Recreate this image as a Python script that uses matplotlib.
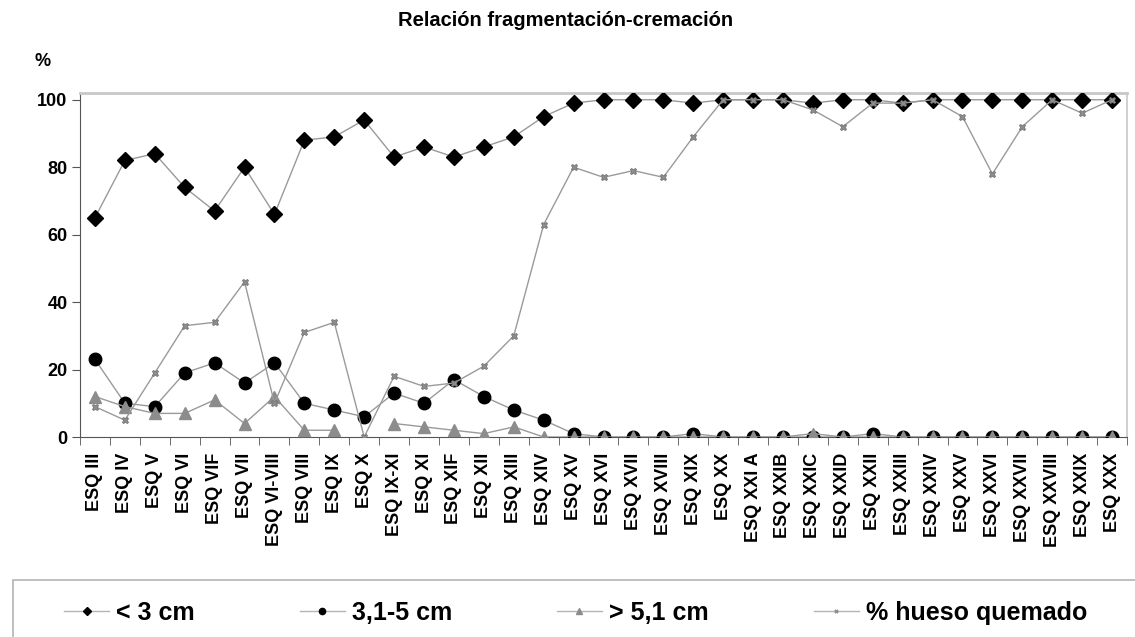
import numpy as np
import matplotlib
matplotlib.use("Agg")
import matplotlib.pyplot as plt
from matplotlib.patches import Rectangle

plt.rcParams['font.family'] = ['Liberation Sans', 'DejaVu Sans']

categories = ["ESQ III", "ESQ IV", "ESQ V", "ESQ VI", "ESQ VIF", "ESQ VII", "ESQ VI-VIII",
              "ESQ VIII", "ESQ IX", "ESQ X", "ESQ IX-XI", "ESQ XI", "ESQ XIF", "ESQ XII",
              "ESQ XIII", "ESQ XIV", "ESQ XV", "ESQ XVI", "ESQ XVII", "ESQ XVIII", "ESQ XIX",
              "ESQ XX", "ESQ XXI A", "ESQ XXIB", "ESQ XXIC", "ESQ XXID", "ESQ XXII",
              "ESQ XXIII", "ESQ XXIV", "ESQ XXV", "ESQ XXVI", "ESQ XXVII", "ESQ XXVIII",
              "ESQ XXIX", "ESQ XXX"]

menos_3 = [65, 82, 84, 74, 67, 80, 66, 88, 89, 94, 83, 86, 83, 86, 89, 95, 99, 100, 100, 100,
           99, 100, 100, 100, 99, 100, 100, 99, 100, 100, 100, 100, 100, 100, 100]
entre_3_5 = [23, 10, 9, 19, 22, 16, 22, 10, 8, 6, 13, 10, 17, 12, 8, 5, 1, 0, 0, 0,
             1, 0, 0, 0, 0, 0, 1, 0, 0, 0, 0, 0, 0, 0, 0]
mas_5 = [12, 9, 7, 7, 11, 4, 12, 2, 2, np.nan, 4, 3, 2, 1, 3, 0, 0, 0, 0, 0,
         0, 0, 0, 0, 1, 0, 0, 0, 0, 0, 0, 0, 0, 0, 0]
quemado = [9, 5, 19, 33, 34, 46, 10, 31, 34, 0, 18, 15, 16, 21, 30, 63, 80, 77, 79, 77,
           89, 100, 100, 100, 97, 92, 99, 99, 100, 95, 78, 92, 100, 96, 100]

W, H = 1135, 637
fig = plt.figure(figsize=(W / 100, H / 100), dpi=100)
ax = fig.add_axes([80 / W, 1 - 437 / H, 1047 / W, 344 / H])

x = np.arange(len(categories))
line_c = '#9a9a9a'
ax.plot(x, menos_3, color=line_c, lw=1, marker='D', ms=8, mfc='black', mec='black',
        label='< 3 cm', zorder=4)
ax.plot(x, entre_3_5, color=line_c, lw=1, marker='o', ms=9, mfc='black', mec='black',
        label='3,1-5 cm', zorder=3)
ax.plot(x, mas_5, color=line_c, lw=1, marker='^', ms=9, mfc='#8c8c8c', mec='#8c8c8c',
        label='> 5,1 cm', zorder=5)
ax.plot(x, quemado, color=line_c, lw=1, marker='X', ms=5, mfc='#8c8c8c', mec='#6f6f6f',
        mew=0.5, label='% hueso quemado', zorder=6)

ax.set_xlim(-0.5, len(categories) - 0.5)
ax.set_ylim(0, 102)
ax.set_yticks([0, 20, 40, 60, 80, 100])
ax.set_xticks(x)
ax.set_xticklabels(categories, rotation=90, fontsize=13, fontweight='bold')
ax.set_xticks(np.arange(-0.5, len(categories) + 0.5, 1), minor=True)
ax.tick_params(axis='x', which='major', length=0, pad=11)
ax.tick_params(axis='x', which='minor', length=6, direction='out', color='#555555')
ax.tick_params(axis='y', length=6, direction='out', labelsize=13, color='#555555', pad=3)
for lab in ax.get_yticklabels():
    lab.set_fontweight('bold')

ax.spines['left'].set_color('#555555')
ax.spines['bottom'].set_color('#555555')
ax.spines['top'].set_color('#c8c8c8')
ax.spines['right'].set_color('#c8c8c8')
ax.spines['top'].set_linewidth(2)
ax.spines['right'].set_linewidth(1.2)

fig.text(566 / W, 1 - 20 / H, 'Relación fragmentación-cremación', ha='center', va='center',
         fontsize=14.5, fontweight='bold')
fig.text(43 / W, 1 - 62 / H, '%', ha='center', va='center', fontsize=13, fontweight='bold')

# legend frame
fig.patches.append(Rectangle((13 / W, -0.05), 1.2, 1 - 580 / H + 0.05,
                             transform=fig.transFigure, fill=False,
                             edgecolor='#b4b4b4', lw=1.2))

leg = fig.legend(loc='center left', bbox_to_anchor=(64 / W, (H - 613) / H),
                 ncol=4, frameon=False, handlelength=1.8, handletextpad=0.28,
                 columnspacing=4.2, markerscale=0.5, borderpad=0, borderaxespad=0,
                 prop={'weight': 'bold', 'size': 18})
for h in leg.legend_handles:
    h.set_color('#b4b4b4')
for h, c in zip(leg.legend_handles, ['black', 'black', '#8c8c8c', '#8c8c8c']):
    h.set_markerfacecolor(c)
    h.set_markeredgecolor(c)

fig.savefig('out.png', dpi=100)
